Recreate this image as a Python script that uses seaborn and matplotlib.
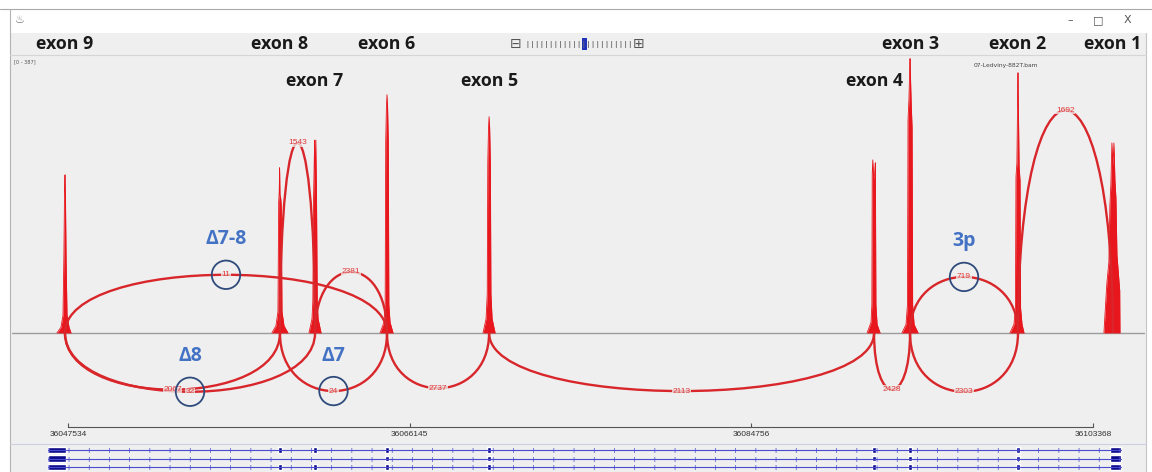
import numpy as np
import pandas as pd
import seaborn as sns
import matplotlib.pyplot as plt
from matplotlib.path import Path
from matplotlib.patches import PathPatch, Rectangle
from matplotlib.lines import Line2D

sns.set_theme(style="white")
plt.rcParams['font.family'] = ['Open Sans', 'DejaVu Sans']

# ---- data ----
exon_names = ["exon 9", "exon 8", "exon 7", "exon 6", "exon 5",
              "exon 4", "exon 3", "exon 2", "exon 1"]
exon_pos = [36047371, 36059080, 36060990, 36064910, 36070470,
            36091440, 36093400, 36099280, 36104450]

# coverage profile around each exon (offset in bp, read depth)
ex9_off = [-440, -220, -110, -60, -25, 0, 25, 60, 110, 220, 330]
ex9_cov = [0, 8, 25, 110, 200, 223, 190, 100, 25, 8, 0]
ex8_off = [-440, -220, -110, -70, -40, -20, 0, 40, 70, 110, 220, 440]
ex8_cov = [0, 10, 30, 185, 200, 233, 195, 190, 180, 30, 10, 0]
ex7_off = [-330, -165, -120, -80, -45, -20, 20, 45, 80, 120, 165, 330]
ex7_cov = [0, 20, 45, 190, 240, 272, 200, 272, 190, 45, 20, 0]
ex6_off = [-380, -165, -100, -70, -30, 0, 30, 70, 100, 165, 330]
ex6_cov = [0, 15, 40, 270, 320, 336, 320, 270, 40, 15, 0]
ex5_off = [-330, -165, -100, -70, -30, 0, 30, 70, 100, 165, 330]
ex5_cov = [0, 20, 55, 240, 290, 305, 290, 240, 55, 20, 0]
ex4_off = [-380, -165, -120, -100, -70, -30, 0, 30, 70, 100, 165, 330]
ex4_cov = [0, 15, 40, 225, 244, 220, 215, 225, 240, 40, 12, 0]
ex3_off = [-440, -220, -140, -110, -60, -20, 0, 20, 60, 110, 140, 220, 440]
ex3_cov = [0, 12, 40, 300, 330, 370, 387, 365, 325, 290, 40, 12, 0]
ex2_off = [-440, -220, -140, -110, -60, -20, 0, 20, 60, 110, 140, 220, 330]
ex2_cov = [0, 12, 35, 220, 240, 330, 367, 320, 235, 215, 35, 12, 0]
ex1_off = [-490, -400, -330, -220, -165, -110, -55, 0, 55, 110, 165, 220, 370, 385]
ex1_cov = [0, 40, 70, 100, 180, 210, 268, 235, 268, 215, 190, 110, 60, 0]
cov_max = 387

# splice junctions (start, end, read count, arc apex in depth units)
junc_start = [36047371, 36059080, 36060990, 36093400, 36099280,
              36047371, 36047371, 36059080, 36064910, 36070470, 36091440, 36093400]
junc_end = [36064910, 36060990, 36064910, 36099280, 36104450,
            36059080, 36060990, 36064910, 36070470, 36091440, 36093400, 36099280]
junc_count = [11, 1543, 2381, 719, 1692, 2067, 32, 24, 2737, 2113, 2428, 2303]
junc_apex = [82, 268, 86, 79, 314, -80, -83, -82, -78, -82, -80, -83]

# highlighted junctions
callout_text = ["Δ7-8", "Δ8", "Δ7", "3p"]
callout_count = [11, 32, 24, 719]

# ruler
ruler_ticks = [36047534, 36066145, 36084756, 36103368]

# gene model: exon blocks (start, end) and transcripts
block_start = [36046440, 36058980, 36060880, 36064800, 36070360,
               36091340, 36093280, 36099180, 36104290]
block_end = [36047425, 36059170, 36061080, 36065010, 36070560,
             36091530, 36093500, 36099370, 36104890]
tx_exons = [list(range(9)), [0, 3, 4, 5, 6, 7, 8], list(range(9))]

# ---- colours ----
SPIKE = "#e8161d"
ARC = "#d8262b"
ARC_TXT = "#e03a3a"
CIRCLE = "#2f4b7c"
CALLOUT = "#4472c4"
BG = "#efefef"
GENE_LINE = "#4b4bd0"
GENE_BLOCK = "#0b0b8a"

W, H = 1152, 472
fig = plt.figure(figsize=(W / 100, H / 100), dpi=100)
fig.patch.set_facecolor("white")


def fx(px):
    return px / W


def fy(py):
    return 1 - py / H


# window chrome
fig.add_artist(Rectangle((fx(10), 0), fx(1146) - fx(10), fy(33),
                         transform=fig.transFigure, facecolor=BG,
                         edgecolor="none", zorder=-10))
for xs, ys, c in [([0, W], [9, 9], "#a8a8a8"),
                  ([10, 10], [9, H], "#b4b4b4"),
                  ([1146, 1146], [33, H], "#c4c4c4"),
                  ([10, 1146], [55, 55], "#d6d6d6"),
                  ([10, 1146], [444, 444], "#ccd0e2")]:
    fig.add_artist(Line2D([fx(v) for v in xs], [fy(v) for v in ys],
                          transform=fig.transFigure, color=c, lw=0.8))

fig.text(fx(20), fy(20), "♨", fontsize=8, color="#777777",
         ha="center", va="center", family="DejaVu Sans")
for xp, ch in [(1070, "–"), (1098, "□"), (1127, "X")]:
    fig.text(fx(xp), fy(20), ch, fontsize=8, color="#555555",
             ha="center", va="center", family="DejaVu Sans")

# zoom widget
fig.text(fx(516), fy(44), "⊟", fontsize=10, color="#555555",
         ha="center", va="center", family="DejaVu Sans")
fig.text(fx(639), fy(44), "⊞", fontsize=10, color="#555555",
         ha="center", va="center", family="DejaVu Sans")
fig.add_artist(Line2D([fx(527), fx(631)], [fy(44), fy(44)],
                      transform=fig.transFigure, color="#666666",
                      lw=5, dashes=(0.12, 0.55), solid_capstyle="butt"))
fig.add_artist(Rectangle((fx(582), fy(50)), fx(5), fy(38) - fy(50),
                         transform=fig.transFigure, facecolor="#2233bb",
                         edgecolor="none"))

# ---- sashimi panel ----
ax = fig.add_axes([fx(12), fy(418), fx(1145) - fx(12), fy(55) - fy(418)])
ax.set_facecolor("none")

offs = [ex9_off, ex8_off, ex7_off, ex6_off, ex5_off, ex4_off, ex3_off, ex2_off, ex1_off]
covs = [ex9_cov, ex8_cov, ex7_cov, ex6_cov, ex5_cov, ex4_cov, ex3_cov, ex2_cov, ex1_cov]
cov_df = pd.concat([
    pd.DataFrame({"pos": np.array(o) + p, "cov": c, "exon": n})
    for n, p, o, c in zip(exon_names, exon_pos, offs, covs)
])
for n, grp in cov_df.groupby("exon"):
    ax.fill_between(grp["pos"], grp["cov"], 0, color=SPIKE, lw=0, zorder=3)
sns.lineplot(data=cov_df, x="pos", y="cov", units="exon", estimator=None,
             color=SPIKE, lw=0.6, ax=ax, legend=False, zorder=3)

ax.axhline(0, color="#9c9c9c", lw=1.0, zorder=2)

codes = [Path.MOVETO, Path.CURVE4, Path.CURVE4, Path.CURVE4]
label_xy = {}
for s, e, n, h in zip(junc_start, junc_end, junc_count, junc_apex):
    c = h / 0.75
    path = Path([(s, 0), (s, c), (e, c), (e, 0)], codes)
    ax.add_patch(PathPatch(path, fill=False, ec=ARC, lw=1.7, zorder=4))
    mx = (s + e) / 2
    label_xy[n] = (mx, h)
    ax.text(mx, h, str(n), ha="center", va="center", fontsize=6,
            color=ARC_TXT, family="Liberation Sans", zorder=5,
            bbox=dict(boxstyle="square,pad=0.08", fc=BG, ec="none", alpha=0.75))

cx = [label_xy[n][0] for n in callout_count]
cy = [label_xy[n][1] for n in callout_count]
ax.scatter(cx, cy, s=420, facecolors="none", edgecolors=CIRCLE,
           linewidths=1.3, zorder=6)
for t, x, y in zip(callout_text, cx, cy):
    ax.annotate(t, xy=(x, y), xytext=(0, 25.5), textcoords="offset points",
                ha="center", va="center", fontsize=14, fontweight="bold",
                color=CALLOUT, zorder=6)

lower_row = {"exon 7", "exon 5", "exon 4"}
for n, p in zip(exon_names, exon_pos):
    yf = 0.928 if n in lower_row else 1.0303
    ax.text(p, yf, n, transform=ax.get_xaxis_transform(), ha="center",
            va="center", fontsize=12.8, fontweight="bold", color="#1a1a1a",
            clip_on=False)

ax.text(0.002, 0.98, f"[0 - {cov_max}]", transform=ax.transAxes,
        fontsize=3.6, color="#555555", ha="left", va="center",
        family="DejaVu Sans")
ax.text(0.877, 0.97, "07-Ledviny-882T.bam", transform=ax.transAxes,
        fontsize=4.3, color="#444444", ha="center", va="center",
        family="DejaVu Sans")

ax.set_xlim(36044484, 36106198)
ax.set_ylim(-120, 392)
ax.axis("off")

# ---- ruler ----
axr = fig.add_axes([fx(12), fy(444), fx(1145) - fx(12), fy(418) - fy(444)])
axr.set_facecolor("none")
for side in ["top", "left", "right"]:
    axr.spines[side].set_visible(False)
axr.spines["bottom"].set_position(("axes", 0.654))
axr.spines["bottom"].set_bounds(ruler_ticks[0], ruler_ticks[-1])
axr.spines["bottom"].set_color("#555555")
axr.spines["bottom"].set_linewidth(0.8)
axr.set_xlim(36044484, 36106198)
axr.set_xticks(ruler_ticks)
axr.set_xticklabels([str(t) for t in ruler_ticks], family="Liberation Sans")
axr.tick_params(axis="x", direction="in", length=3, width=0.8,
                color="#555555", labelsize=6, labelcolor="#333333", pad=3,
                bottom=True)
axr.set_yticks([])
axr.set_xlabel("")

# ---- gene track ----
axg = fig.add_axes([fx(12), 0, fx(1145) - fx(12), fy(444)])
axg.set_facecolor("none")
tx_lo, tx_hi = block_start[0], block_end[-1]
for row, ex_idx in enumerate(tx_exons):
    axg.plot([tx_lo, tx_hi], [row, row], color=GENE_LINE, lw=0.8)
    axg.plot([tx_lo, tx_hi], [row, row], color=GENE_LINE, lw=3.6,
             dashes=(0.14, 3.9), solid_capstyle="butt")
    ends = [i for i in ex_idx if i in (0, 8)]
    mids = [i for i in ex_idx if i not in (0, 8)]
    axg.broken_barh([(block_start[i], block_end[i] - block_start[i]) for i in ends],
                    (row - 0.4, 0.8), facecolors=GENE_BLOCK)
    axg.broken_barh([(block_start[i], block_end[i] - block_start[i]) for i in mids],
                    (row - 0.33, 0.66), facecolors=GENE_BLOCK)
axg.set_xlim(36044484, 36106198)
axg.set_ylim(2.588, -0.706)
axg.axis("off")

fig.savefig("out.png", dpi=100)
